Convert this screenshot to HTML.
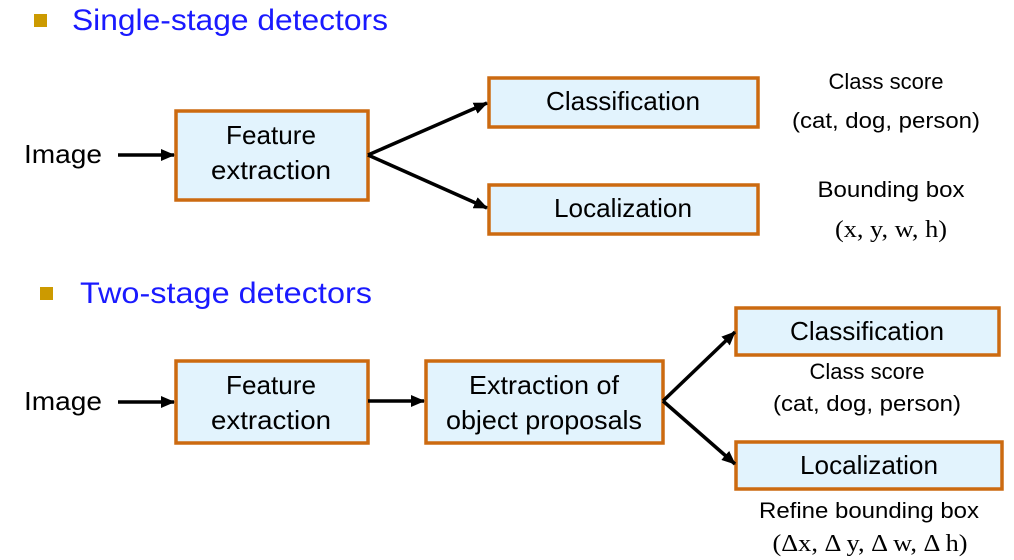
<!DOCTYPE html>
<html><head><meta charset="utf-8"><style>
html,body{margin:0;padding:0;background:#fff;}
svg{display:block;}
text{font-family:"Liberation Sans",sans-serif;}
</style></head><body>
<svg width="1014" height="560" viewBox="0 0 1014 560" xmlns="http://www.w3.org/2000/svg">
<defs>
<marker id="a" markerWidth="14" markerHeight="12" refX="13" refY="6" orient="auto" markerUnits="userSpaceOnUse">
<path d="M0,0 L14,6 L0,12 z" fill="#000"/>
</marker>
</defs>
<rect x="34" y="14" width="13" height="13" fill="#cc9a00"/>
<text x="72" y="30" font-size="30" fill="#1a1aff" textLength="316" lengthAdjust="spacingAndGlyphs">Single-stage detectors</text>
<rect x="40" y="287" width="13" height="13" fill="#cc9a00"/>
<text x="80" y="303" font-size="30" fill="#1a1aff" textLength="292" lengthAdjust="spacingAndGlyphs">Two-stage detectors</text>

<g fill="#e2f3fd" stroke="#cc6a10" stroke-width="3.5">
<rect x="176" y="111" width="192" height="89"/>
<rect x="489" y="78" width="269" height="49"/>
<rect x="489" y="185" width="269" height="49"/>
<rect x="176" y="361" width="192" height="82"/>
<rect x="426" y="361" width="237" height="82"/>
<rect x="736" y="308" width="263" height="47"/>
<rect x="736" y="442" width="266" height="47"/>
</g>

<g stroke="#000" stroke-width="3.5" fill="none" marker-end="url(#a)">
<line x1="118" y1="155" x2="174" y2="155"/>
<line x1="368" y1="155" x2="487" y2="103"/>
<line x1="368" y1="155" x2="487" y2="208"/>
<line x1="118" y1="402" x2="174" y2="402"/>
<line x1="368" y1="401" x2="424" y2="401"/>
<line x1="663" y1="401" x2="735" y2="332"/>
<line x1="663" y1="401" x2="735" y2="464"/>
</g>

<g font-size="26" fill="#000" text-anchor="middle">
<text x="24" y="163" text-anchor="start" textLength="78" lengthAdjust="spacingAndGlyphs">Image</text>
<text x="271" y="144" textLength="90" lengthAdjust="spacingAndGlyphs">Feature</text>
<text x="271" y="179" textLength="120" lengthAdjust="spacingAndGlyphs">extraction</text>
<text x="623" y="110" textLength="154" lengthAdjust="spacingAndGlyphs">Classification</text>
<text x="623" y="217" textLength="138" lengthAdjust="spacingAndGlyphs">Localization</text>
<text x="24" y="410" text-anchor="start" textLength="78" lengthAdjust="spacingAndGlyphs">Image</text>
<text x="271" y="394" textLength="90" lengthAdjust="spacingAndGlyphs">Feature</text>
<text x="271" y="429" textLength="120" lengthAdjust="spacingAndGlyphs">extraction</text>
<text x="544" y="394" textLength="150" lengthAdjust="spacingAndGlyphs">Extraction of</text>
<text x="544" y="429" textLength="196" lengthAdjust="spacingAndGlyphs">object proposals</text>
<text x="867" y="340" textLength="154" lengthAdjust="spacingAndGlyphs">Classification</text>
<text x="869" y="474" textLength="138" lengthAdjust="spacingAndGlyphs">Localization</text>
</g>
<g font-size="22" fill="#000" text-anchor="middle">
<text x="886" y="89" textLength="115" lengthAdjust="spacingAndGlyphs">Class score</text>
<text x="886" y="128" textLength="188" lengthAdjust="spacingAndGlyphs">(cat, dog, person)</text>
<text x="891" y="197" textLength="147" lengthAdjust="spacingAndGlyphs">Bounding box</text>
<text x="867" y="379" textLength="115" lengthAdjust="spacingAndGlyphs">Class score</text>
<text x="867" y="411" textLength="188" lengthAdjust="spacingAndGlyphs">(cat, dog, person)</text>
<text x="869" y="518" textLength="220" lengthAdjust="spacingAndGlyphs">Refine bounding box</text>
</g>
<g font-size="24" fill="#000" text-anchor="middle">
<text x="891" y="237" style="font-family:'Liberation Serif',serif" textLength="112" lengthAdjust="spacingAndGlyphs">(x, y, w, h)</text>
<text x="870" y="551" style="font-family:'Liberation Serif',serif" textLength="195" lengthAdjust="spacingAndGlyphs">(Δx, Δ y, Δ w, Δ h)</text>
</g>
</svg>
</body></html>
